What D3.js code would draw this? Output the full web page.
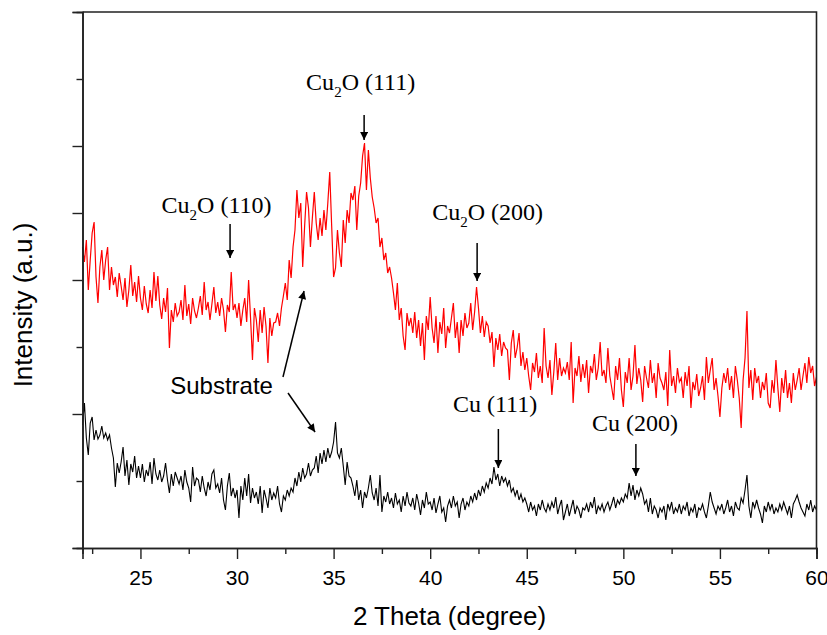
<!DOCTYPE html>
<html>
<head>
<meta charset="utf-8">
<script src="https://cdn.jsdelivr.net/npm/d3@7"></script>
<style>
    html, body { margin: 0; padding: 0; background: #fff; }
    svg { display: block; }
</style>
</head>
<body>
<svg id="xrd-chart"></svg>
<script>
// 2 theta from 22.0 to 60.0 in 0.1 degree steps
const twoTheta = d3.range(220, 601).map((d) => d / 10);

// Cu2O film (red), intensity in a.u., one row per degree
const redIntensity = [
    301, 286, 308, 258, 288, 315, 326, 271, 245, 281, // 22
    298, 268, 288, 301, 258, 281, 263, 271, 251, 275, // 23
    262, 248, 270, 241, 258, 283, 252, 266, 246, 272, // 24
    250, 238, 262, 244, 235, 258, 240, 276, 247, 272, // 25
    243, 229, 250, 236, 260, 200, 238, 226, 245, 232, // 26
    236, 248, 228, 263, 232, 244, 224, 250, 237, 230, // 27
    240, 252, 233, 266, 238, 246, 228, 244, 261, 235, // 28
    246, 232, 250, 238, 216, 243, 236, 276, 238, 244, // 29
    230, 245, 222, 238, 250, 226, 268, 230, 188, 240, // 30
    228, 206, 238, 215, 241, 222, 185, 230, 212, 225, // 31
    226, 235, 222, 240, 252, 265, 248, 288, 270, 301, // 32
    318, 358, 330, 345, 281, 322, 356, 340, 301, 330, // 33
    356, 325, 308, 330, 312, 338, 318, 345, 376, 322, // 34
    271, 280, 318, 295, 281, 328, 305, 338, 325, 355, // 35
    348, 362, 318, 352, 365, 392, 405, 358, 398, 370, // 36
    351, 340, 325, 330, 301, 310, 288, 295, 275, 281, // 37
    270, 255, 238, 265, 228, 240, 212, 198, 235, 222, // 38
    230, 215, 236, 210, 228, 202, 225, 188, 232, 218, // 39
    251, 220, 205, 232, 195, 226, 214, 240, 200, 222, // 40
    215, 230, 245, 210, 226, 195, 228, 212, 235, 220, // 41
    225, 245, 218, 236, 261, 240, 215, 232, 211, 226, // 42
    222, 205, 216, 181, 210, 198, 214, 192, 206, 200, // 43
    198, 168, 205, 218, 190, 200, 215, 182, 196, 178, // 44
    190, 172, 158, 185, 176, 195, 170, 182, 165, 220, // 45
    182, 170, 188, 153, 176, 205, 168, 190, 172, 180, // 46
    175, 186, 168, 206, 145, 180, 172, 192, 166, 184, // 47
    170, 188, 155, 182, 175, 194, 168, 180, 206, 172, // 48
    178, 165, 200, 172, 160, 148, 182, 168, 190, 158, // 49
    141, 176, 165, 190, 158, 172, 203, 164, 180, 168, // 50
    146, 182, 170, 160, 188, 165, 175, 150, 185, 170, // 51
    165, 158, 176, 142, 198, 162, 172, 155, 180, 166, // 52
    170, 150, 176, 162, 182, 140, 166, 158, 174, 152, // 53
    160, 172, 148, 191, 165, 178, 190, 158, 170, 152, // 54
    131, 160, 175, 165, 180, 158, 172, 150, 182, 168, // 55
    150, 120, 168, 190, 237, 160, 178, 148, 180, 165, // 56
    172, 150, 166, 158, 175, 145, 140, 168, 155, 188, // 57
    160, 136, 170, 155, 178, 150, 165, 145, 175, 158, // 58
    168, 180, 158, 172, 185, 165, 191, 175, 182, 162, // 59
    171
];

// Cu substrate (black)
const blackIntensity = [
    123, 145, 110, 93, 125, 131, 108, 118, 109, 113, // 22
    122, 110, 115, 108, 113, 100, 90, 61, 85, 75, // 23
    86, 101, 72, 88, 63, 84, 76, 92, 70, 82, // 24
    70, 84, 66, 78, 72, 86, 64, 90, 74, 68, // 25
    78, 66, 72, 85, 68, 55, 74, 62, 76, 70, // 26
    64, 72, 58, 78, 66, 60, 46, 81, 62, 70, // 27
    68, 56, 72, 60, 52, 66, 58, 74, 78, 60, // 28
    64, 55, 70, 48, 38, 62, 75, 52, 60, 50, // 29
    58, 30, 62, 48, 70, 52, 74, 45, 60, 50, // 30
    56, 44, 62, 35, 58, 50, 40, 60, 48, 55, // 31
    50, 62, 44, 36, 52, 48, 58, 52, 60, 56, // 32
    70, 62, 76, 66, 80, 70, 74, 85, 72, 78, // 33
    80, 92, 75, 95, 84, 98, 86, 100, 90, 96, // 34
    106, 126, 95, 90, 100, 82, 63, 86, 72, 70, // 35
    62, 52, 68, 48, 58, 40, 56, 50, 60, 73, // 36
    55, 48, 60, 42, 73, 36, 52, 46, 56, 44, // 37
    50, 40, 55, 44, 48, 36, 52, 42, 56, 45, // 38
    42, 50, 38, 54, 45, 33, 48, 40, 56, 44, // 39
    46, 38, 50, 35, 44, 52, 36, 40, 26, 42, // 40
    48, 40, 52, 42, 46, 30, 44, 50, 38, 46, // 41
    42, 52, 46, 55, 48, 58, 52, 62, 56, 65, // 42
    60, 70, 64, 81, 68, 74, 62, 72, 66, 70, // 43
    62, 68, 56, 60, 52, 58, 48, 54, 46, 50, // 44
    44, 36, 46, 38, 42, 32, 44, 38, 48, 40, // 45
    36, 44, 38, 46, 40, 51, 34, 42, 48, 28, // 46
    36, 44, 32, 40, 48, 34, 42, 38, 30, 40, // 47
    38, 44, 36, 46, 40, 51, 34, 42, 38, 44, // 48
    36, 42, 46, 38, 44, 51, 40, 48, 44, 50, // 49
    46, 54, 50, 65, 52, 63, 48, 58, 52, 60, // 50
    54, 44, 48, 36, 50, 34, 42, 38, 30, 40, // 51
    36, 42, 28, 44, 38, 46, 34, 40, 36, 44, // 52
    34, 42, 38, 46, 32, 40, 36, 44, 30, 40, // 53
    38, 44, 36, 30, 42, 56, 46, 40, 34, 42, // 54
    38, 44, 34, 40, 48, 36, 42, 32, 46, 40, // 55
    38, 50, 45, 58, 73, 42, 30, 46, 40, 48, // 56
    40, 34, 25, 42, 36, 46, 38, 44, 34, 40, // 57
    36, 44, 38, 46, 40, 34, 42, 30, 44, 48, // 58
    53, 46, 40, 36, 32, 44, 38, 48, 36, 42, // 59
    38
];

const xMajorTicks = [25, 30, 35, 40, 45, 50, 55, 60];
const xMinorTicks = [22.5, 27.5, 32.5, 37.5, 42.5, 47.5, 52.5, 57.5];
const yMajorTicks = [0, 134, 268, 335, 402, 536];
const yMinorTicks = [67, 201, 469];

// peak labels: [main, subscript, rest], text centre, baseline, arrow x, arrow top, arrow tip
const peakLabels = [
    { parts: ['Cu', '2', 'O (110)'], tx: 28.94, ty: 335, ax: 29.64, y1: 324, y2: 290 },
    { parts: ['Cu', '2', 'O (111)'], tx: 36.40, ty: 458, ax: 36.58, y1: 433, y2: 408 },
    { parts: ['Cu', '2', 'O (200)'], tx: 42.97, ty: 328, ax: 42.43, y1: 305, y2: 267 },
    { parts: ['Cu (111)'], tx: 43.36, ty: 136, ax: 43.53, y1: 119, y2: 80 },
    { parts: ['Cu (200)'], tx: 50.60, ty: 117, ax: 50.65, y1: 104, y2: 72 },
];

const substrateArrows = [
    { x1: 32.38, y1: 171, x2: 33.47, y2: 257 },
    { x1: 32.64, y1: 155, x2: 34.04, y2: 116 },
];

const sans = 'Arial, "Liberation Sans", sans-serif';
const serif = '"Times New Roman", "Liberation Serif", serif';

const svg = d3.select('#xrd-chart').attr('width', 827).attr('height', 635);

const margin = { top: 12, right: 10.5, bottom: 87, left: 82.5 };
const width = 827 - margin.left - margin.right;
const height = 635 - margin.top - margin.bottom;

const x = d3.scaleLinear().domain([22, 60]).range([margin.left, margin.left + width]);
const y = d3.scaleLinear().domain([0, 536]).range([margin.top + height, margin.top]);

svg.append('defs').append('marker')
    .attr('id', 'arrowhead')
    .attr('markerUnits', 'userSpaceOnUse')
    .attr('viewBox', '0 0 10 10')
    .attr('refX', 10)
    .attr('refY', 5)
    .attr('markerWidth', 10)
    .attr('markerHeight', 8)
    .attr('orient', 'auto')
    .append('path')
    .attr('d', 'M0,0 L10,5 L0,10 Z')
    .attr('fill', '#000');

// traces
const line = d3.line()
    .x((d) => x(d[0]))
    .y((d) => y(d[1]));

svg.append('path')
    .datum(twoTheta.map((t, i) => [t, blackIntensity[i]]))
    .attr('fill', 'none')
    .attr('stroke', '#000')
    .attr('stroke-width', 1.1)
    .attr('d', line);

svg.append('path')
    .datum(twoTheta.map((t, i) => [t, redIntensity[i]]))
    .attr('fill', 'none')
    .attr('stroke', '#ff0000')
    .attr('stroke-width', 1.2)
    .attr('d', line);

// axes
const styleAxis = (g) => {
    g.select('.domain').attr('stroke', '#222').attr('stroke-width', 1.6);
    g.selectAll('.tick line').attr('stroke', '#222').attr('stroke-width', 1.4);
};

svg.append('g')
    .attr('transform', `translate(0,${margin.top + height})`)
    .call(d3.axisBottom(x).tickValues(xMajorTicks).tickSize(11).tickPadding(11).tickFormat(d3.format('d')))
    .call(styleAxis)
    .call((g) => g.selectAll('text').attr('font-family', sans).attr('font-size', 21).attr('fill', '#000'));

svg.append('g')
    .attr('transform', `translate(0,${margin.top + height})`)
    .call(d3.axisBottom(x).tickValues(xMinorTicks).tickSize(6).tickFormat(''))
    .call(styleAxis);

svg.append('g')
    .attr('transform', `translate(${margin.left},0)`)
    .call(d3.axisLeft(y).tickValues(yMajorTicks).tickSize(10).tickFormat(''))
    .call(styleAxis);

svg.append('g')
    .attr('transform', `translate(${margin.left},0)`)
    .call(d3.axisLeft(y).tickValues(yMinorTicks).tickSize(6).tickFormat(''))
    .call(styleAxis);

// top and right frame
svg.append('path')
    .attr('d', `M${x(22)},${y(536)}H${x(60)}V${y(0)}`)
    .attr('fill', 'none')
    .attr('stroke', '#222')
    .attr('stroke-width', 1.6);

// axis titles
svg.append('text')
    .attr('x', x(41))
    .attr('y', 625)
    .attr('text-anchor', 'middle')
    .attr('font-family', sans)
    .attr('font-size', 26)
    .text('2 Theta (degree)');

svg.append('text')
    .attr('transform', 'translate(32,305) rotate(-90)')
    .attr('text-anchor', 'middle')
    .attr('font-family', sans)
    .attr('font-size', 26)
    .text('Intensity (a.u.)');

// peak labels with arrows
peakLabels.forEach((p) => {
    const t = svg.append('text')
        .attr('x', x(p.tx))
        .attr('y', y(p.ty))
        .attr('text-anchor', 'middle')
        .attr('font-family', serif)
        .attr('font-size', 24)
        .attr('fill', '#000');
    if (p.parts.length === 3) {
        t.append('tspan').text(p.parts[0]);
        t.append('tspan').attr('font-size', 15).attr('dy', 7).text(p.parts[1]);
        t.append('tspan').attr('dy', -7).text(p.parts[2]);
    } else {
        t.text(p.parts[0]);
    }
    svg.append('line')
        .attr('x1', x(p.ax)).attr('y1', y(p.y1))
        .attr('x2', x(p.ax)).attr('y2', y(p.y2))
        .attr('stroke', '#000')
        .attr('stroke-width', 1.5)
        .attr('marker-end', 'url(#arrowhead)');
});

svg.append('text')
    .attr('x', x(29.2))
    .attr('y', y(154))
    .attr('text-anchor', 'middle')
    .attr('font-family', sans)
    .attr('font-size', 24)
    .text('Substrate');

substrateArrows.forEach((a) => {
    svg.append('line')
        .attr('x1', x(a.x1)).attr('y1', y(a.y1))
        .attr('x2', x(a.x2)).attr('y2', y(a.y2))
        .attr('stroke', '#000')
        .attr('stroke-width', 1.5)
        .attr('marker-end', 'url(#arrowhead)');
});
</script>
</body>
</html>
